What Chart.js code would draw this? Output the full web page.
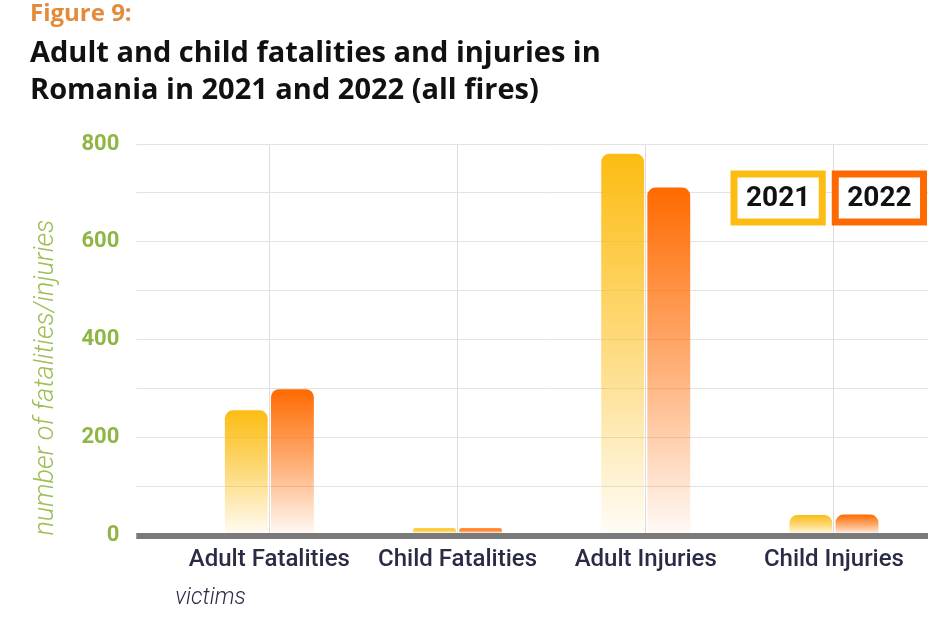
<!DOCTYPE html>
<html>
<head>
<meta charset="utf-8">
<script src="https://cdn.jsdelivr.net/npm/chart.js@4.4.1/dist/chart.umd.min.js"></script>
<style>
  html, body { margin: 0; padding: 0; background: #fff; }
  #wrap { width: 946px; height: 628px; position: relative; }
</style>
</head>
<body>
<div id="wrap"><canvas id="chart"></canvas></div>
<script>
// Data
const categories = ['Adult Fatalities', 'Child Fatalities', 'Adult Injuries', 'Child Injuries'];
const values2021 = [256, 15, 780, 42];
const values2022 = [299, 15, 711, 43];
const seriesLabels = ['2021', '2022'];
const seriesColors = ['252, 188, 18', '255, 106, 0'];

// Vertical fade from full colour at the bar top to white at the base
function barGradient(ctx, rgb) {
  const chart = ctx.chart;
  const y = chart.scales.y;
  if (!y || ctx.type !== 'data') return `rgb(${rgb})`;
  const top = y.getPixelForValue(ctx.raw);
  const base = y.getPixelForValue(0);
  if (!isFinite(top) || !isFinite(base) || top === base) return `rgb(${rgb})`;
  const g = chart.ctx.createLinearGradient(0, top, 0, base);
  g.addColorStop(0, `rgba(${rgb}, 1)`);
  g.addColorStop(0.5, `rgba(${rgb}, 0.55)`);
  g.addColorStop(1, `rgba(${rgb}, 0.03)`);
  return g;
}

// Boxed legend drawn inside the plot area (top right)
const boxLegend = {
  id: 'boxLegend',
  afterDraw(chart) {
    const c = chart.ctx;
    c.save();
    c.font = 'bold 28px Roboto, sans-serif';
    c.textAlign = 'center';
    c.textBaseline = 'middle';
    let x = 734;
    const y = 174, h = 48, lw = 7;
    chart.data.datasets.forEach((ds, i) => {
      const w = c.measureText(ds.label).width + 24;
      c.fillStyle = '#fff';
      c.fillRect(x, y, w, h);
      c.strokeStyle = `rgb(${seriesColors[i]})`;
      c.lineWidth = lw;
      c.strokeRect(x, y, w, h);
      c.fillStyle = '#111';
      c.fillText(ds.label, x + w / 2, y + h / 2 + 1);
      x += w + 13;
    });
    c.restore();
  }
};

const datasets = [values2021, values2022].map((vals, i) => ({
  label: seriesLabels[i],
  data: vals,
  backgroundColor: ctx => barGradient(ctx, seriesColors[i]),
  borderWidth: 0,
  borderRadius: { topLeft: 8, topRight: 8 },
  borderSkipped: 'start',
  categoryPercentage: 0.49,
  barPercentage: 0.93
}));

new Chart(document.getElementById('chart'), {
  type: 'bar',
  data: { labels: categories, datasets: datasets },
  options: {
    responsive: true,
    maintainAspectRatio: false,
    animation: false,
    layout: { padding: { left: 30, right: 18, top: 0, bottom: 16 } },
    plugins: {
      legend: { display: false },
      tooltip: { enabled: false },
      title: {
        display: true,
        text: 'Figure 9:',
        align: 'start',
        color: '#E38A3B',
        font: { family: '"Open Sans", sans-serif', size: 24, weight: 'bold', lineHeight: 1.2 },
        padding: { top: 0, bottom: 6 }
      },
      subtitle: {
        display: true,
        text: ['Adult and child fatalities and injuries in', 'Romania in 2021 and 2022 (all fires)'],
        align: 'start',
        color: '#111',
        font: { family: '"Open Sans", sans-serif', size: 29, weight: 'bold', lineHeight: 1.28 },
        padding: { top: 0, bottom: 35 }
      }
    },
    scales: {
      x: {
        grid: { offset: false, color: '#dcdcdc', drawTicks: false },
        border: { display: false },
        ticks: {
          color: '#2A2C45',
          padding: 10,
          font: { family: 'Roboto, sans-serif', size: 24, weight: '500' }
        },
        title: {
          display: true,
          text: 'victims',
          align: 'start',
          color: '#2A2C45',
          padding: { top: 0, bottom: 0 },
          font: { family: 'Roboto, sans-serif', size: 23, style: 'italic', weight: '300' }
        }
      },
      y: {
        min: 0,
        max: 800,
        grid: {
          color: ctx => ctx.tick && ctx.tick.value === 0 ? '#7a7a7a' : '#e2e2e2',
          lineWidth: ctx => ctx.tick && ctx.tick.value === 0 ? 6 : 1,
          tickLength: 39
        },
        border: { display: false },
        ticks: {
          stepSize: 100,
          padding: 17,
          color: '#8FB545',
          font: { family: 'Roboto, sans-serif', size: 22, weight: 'bold' },
          callback: v => v % 200 === 0 ? v : ''
        },
        title: {
          display: true,
          text: 'number of fatalities/injuries',
          align: 'start',
          color: '#9DBF55',
          padding: { top: 0, bottom: 2 },
          font: { family: 'Roboto, sans-serif', size: 27, style: 'italic', weight: '300' }
        }
      }
    }
  },
  plugins: [boxLegend]
});
</script>
</body>
</html>
